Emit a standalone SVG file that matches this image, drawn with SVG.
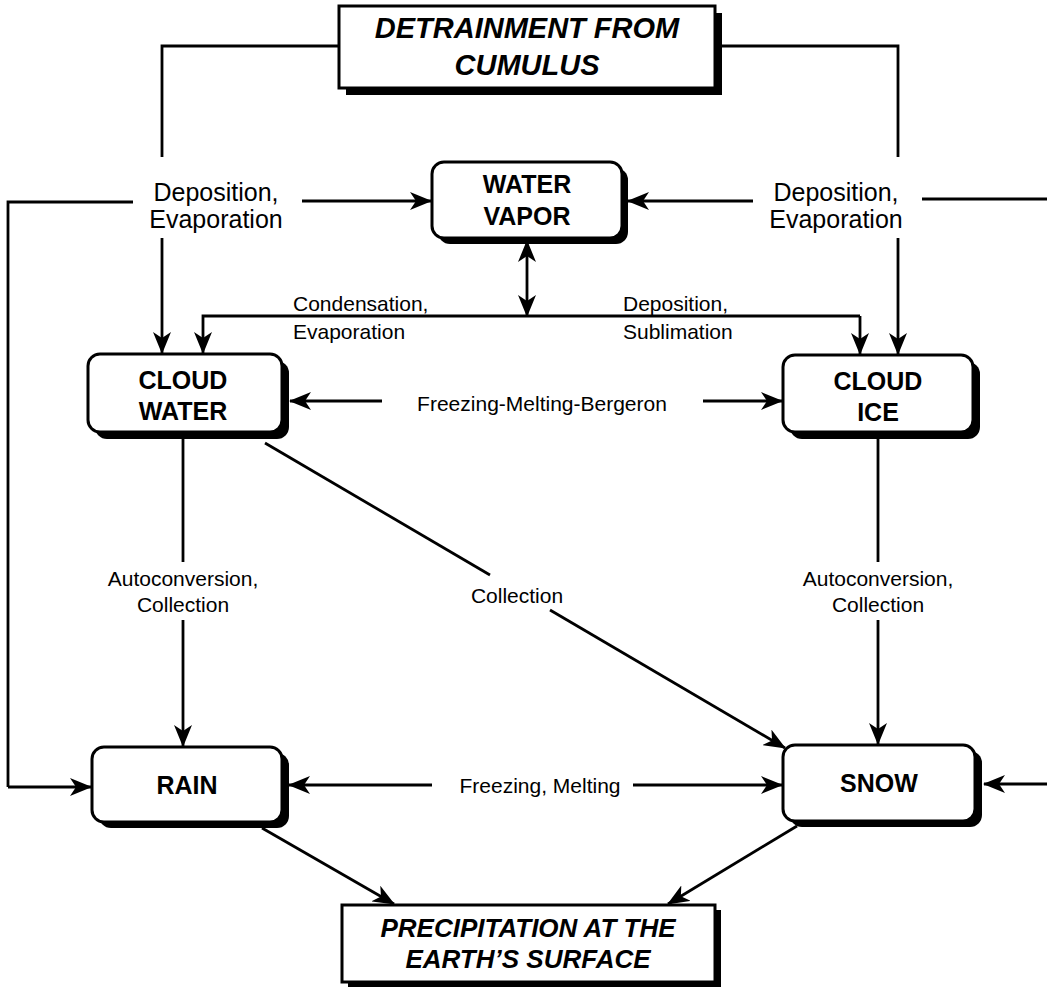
<svg xmlns="http://www.w3.org/2000/svg" width="1047" height="989" viewBox="0 0 1047 989">
<defs>
<marker id="ah" markerUnits="userSpaceOnUse" markerWidth="22" markerHeight="18" refX="21" refY="9" orient="auto-start-reverse">
<path d="M0,0 L22,9 L0,18 L6,9 z" fill="#000"/>
</marker>
</defs>
<style>
.box{fill:#fff;stroke:#000;stroke-width:3}
.sh{fill:#000}
.bt{font-family:"Liberation Sans",Arial,sans-serif;font-weight:bold;font-size:25px;text-anchor:middle;fill:#000}
.tt{font-family:"Liberation Sans",Arial,sans-serif;font-weight:bold;font-style:italic;font-size:29px;text-anchor:middle;fill:#000}
.lb{font-family:"Liberation Sans",Arial,sans-serif;font-size:25px;text-anchor:middle;fill:#000}
.sm{font-family:"Liberation Sans",Arial,sans-serif;font-size:21px;fill:#000}
.c{fill:none;stroke:#000;stroke-width:2.8}
.a{fill:none;stroke:#000;stroke-width:2.8;marker-end:url(#ah)}
</style>
<rect width="1047" height="989" fill="#fff"/>

<g id="connectors">
<polyline class="c" points="339,46 162,46 162,157"/>
<line class="a" x1="162" y1="238" x2="162" y2="353"/>
<polyline class="c" points="722,46 898,46 898,157"/>
<line class="a" x1="898" y1="238" x2="898" y2="354"/>
<polyline class="c" points="133,202 8,202 8,787"/>
<line class="a" x1="8" y1="787" x2="91" y2="787"/>
<line class="a" x1="302" y1="201" x2="431" y2="201"/>
<line class="a" x1="753" y1="201" x2="628" y2="201"/>
<line class="c" x1="922" y1="199" x2="1047" y2="199"/>
<line class="c" x1="527" y1="241" x2="527" y2="316" style="marker-start:url(#ah);marker-end:url(#ah)"/>
<polyline class="a" points="860,316 203,316 203,353"/>
<line class="a" x1="860" y1="316" x2="860" y2="354"/>
<line class="a" x1="382" y1="401" x2="290" y2="401"/>
<line class="a" x1="703" y1="401" x2="782" y2="401"/>
<line class="c" x1="183" y1="438" x2="183" y2="562"/>
<line class="a" x1="183" y1="620" x2="183" y2="746"/>
<line class="c" x1="265" y1="443" x2="490" y2="575"/>
<line class="a" x1="550" y1="610" x2="785" y2="748"/>
<line class="c" x1="878" y1="438" x2="878" y2="562"/>
<line class="a" x1="878" y1="620" x2="878" y2="744"/>
<line class="a" x1="432" y1="785" x2="289" y2="785"/>
<line class="a" x1="633" y1="785" x2="782" y2="785"/>
<line class="a" x1="1047" y1="784" x2="984" y2="784"/>
<line class="a" x1="262" y1="828" x2="394" y2="904"/>
<line class="a" x1="797" y1="826" x2="668" y2="904"/>
</g>

<g id="labels">
<text class="lb" x="216" y="201">Deposition,</text>
<text class="lb" x="216" y="228">Evaporation</text>
<text class="lb" x="836" y="201">Deposition,</text>
<text class="lb" x="836" y="228">Evaporation</text>
<text class="sm" x="293" y="311">Condensation,</text>
<text class="sm" x="293" y="339">Evaporation</text>
<text class="sm" x="623" y="311">Deposition,</text>
<text class="sm" x="623" y="339">Sublimation</text>
<text class="sm" x="542" y="411" text-anchor="middle">Freezing-Melting-Bergeron</text>
<text class="sm" x="183" y="586" text-anchor="middle">Autoconversion,</text>
<text class="sm" x="183" y="612" text-anchor="middle">Collection</text>
<text class="sm" x="517" y="603" text-anchor="middle">Collection</text>
<text class="sm" x="878" y="586" text-anchor="middle">Autoconversion,</text>
<text class="sm" x="878" y="612" text-anchor="middle">Collection</text>
<text class="sm" x="540" y="793" text-anchor="middle">Freezing, Melting</text>
</g>

<g id="detrainment">
<rect class="sh" x="346" y="13" width="376" height="82"/>
<rect class="box" x="339" y="6" width="376" height="82"/>
<text class="tt" x="527" y="38">DETRAINMENT FROM</text>
<text class="tt" x="527" y="75">CUMULUS</text>
</g>

<g id="water-vapor">
<rect class="sh" x="438" y="168" width="190" height="76" rx="12"/>
<rect class="box" x="432" y="162" width="190" height="76" rx="12"/>
<text class="bt" x="527" y="193">WATER</text>
<text class="bt" x="527" y="225">VAPOR</text>
</g>

<g id="cloud-water">
<rect class="sh" x="95" y="361" width="194" height="78" rx="12"/>
<rect class="box" x="88" y="354" width="194" height="78" rx="12"/>
<text class="bt" x="183" y="389">CLOUD</text>
<text class="bt" x="183" y="420">WATER</text>
</g>

<g id="cloud-ice">
<rect class="sh" x="790" y="362" width="190" height="77" rx="12"/>
<rect class="box" x="783" y="355" width="190" height="77" rx="12"/>
<text class="bt" x="878" y="390">CLOUD</text>
<text class="bt" x="878" y="421">ICE</text>
</g>

<g id="rain">
<rect class="sh" x="99" y="753" width="190" height="75" rx="12"/>
<rect class="box" x="92" y="747" width="190" height="75" rx="12"/>
<text class="bt" x="187" y="794">RAIN</text>
</g>

<g id="snow">
<rect class="sh" x="790" y="751" width="192" height="76" rx="12"/>
<rect class="box" x="783" y="745" width="192" height="76" rx="12"/>
<text class="bt" x="879" y="792">SNOW</text>
</g>

<g id="precipitation">
<rect class="sh" x="348" y="910" width="373" height="77"/>
<rect class="box" x="342" y="905" width="373" height="77"/>
<text class="tt" x="528" y="937" style="font-size:26px">PRECIPITATION AT THE</text>
<text class="tt" x="528" y="968" style="font-size:26px">EARTH’S SURFACE</text>
</g>
</svg>
